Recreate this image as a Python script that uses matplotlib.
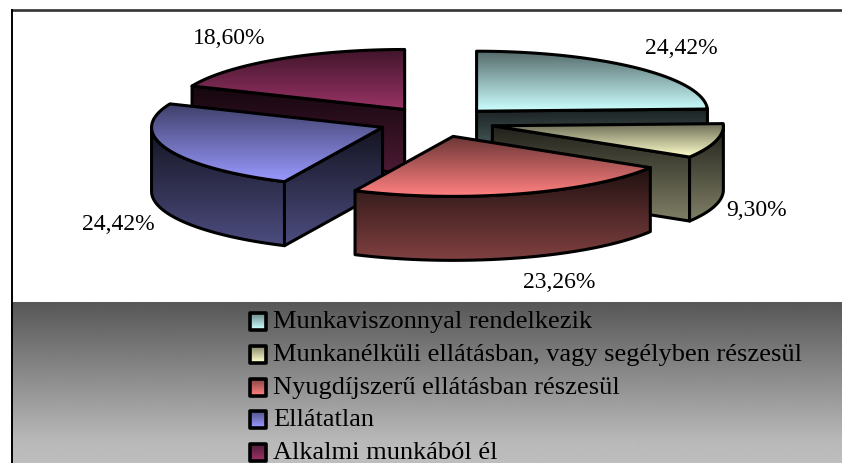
import numpy as np
import matplotlib
matplotlib.use('Agg')
import matplotlib.pyplot as plt
from matplotlib.patches import Polygon

categories = ['Munkaviszonnyal rendelkezik',
              'Munkanélküli ellátásban, vagy segélyben részesül',
              'Nyugdíjszerű ellátásban részesül',
              'Ellátatlan',
              'Alkalmi munkából él']
values = [24.42, 9.30, 23.26, 24.42, 18.60]
colors = ['#CCFFFF', '#FFFFCC', '#FF8080', '#9999FF', '#993366']

# pixel layout of the fake 3D pie
cx, cy = 436.5, 122
rx, ry = 231, 60
depth = 64
explode = 0.25
label_xy = [(681, 48), (757, 211), (559, 283), (118, 224), (229, 39)]
legend_rows = [321, 354, 387, 419, 452]
draw_order = [4, 0, 1, 3, 2]

plt.rcParams['font.family'] = ['Liberation Serif', 'DejaVu Serif']

fig = plt.figure(figsize=(8.42, 4.63), dpi=100)
ax = fig.add_axes([0, 0, 1, 1])
ax.set_xlim(0, 842)
ax.set_ylim(463, 0)
ax.axis('off')


def rgb(c):
    return np.array(matplotlib.colors.to_rgb(c))


def grad_fill(pts, c, t0, t1, z, lw=2.2):
    '''polygon filled with a vertical gradient, black outline on top'''
    pts = np.array(pts)
    x0, y0 = pts.min(axis=0)
    x1, y1 = pts.max(axis=0)
    t = np.linspace(t0, t1, 64).reshape(-1, 1, 1)
    im = ax.imshow(t * rgb(c).reshape(1, 1, 3), extent=(x0, x1, y1, y0), aspect='auto',
                   interpolation='bilinear', zorder=z)
    poly = Polygon(pts, closed=True, fc='none', ec='black', lw=lw, joinstyle='round', zorder=z + 0.1)
    ax.add_patch(poly)
    im.set_clip_path(poly)


# background
ax.plot([11.5, 842], [10, 10], color='#333333', lw=1.9, zorder=1)
shade = np.interp(np.arange(302, 463), [302, 403, 440, 463], [87, 158, 184, 190]) / 255
ax.imshow(shade.reshape(-1, 1), extent=(11, 842, 463, 302), aspect='auto', cmap='gray', vmin=0, vmax=1,
          interpolation='bilinear', zorder=1)
ax.plot([11.5, 11.5], [10, 463], color='black', lw=1.4, zorder=2)

# slices, angles clockwise from 12 o'clock
edges = np.cumsum([0] + values) / sum(values) * 360


def rim_point(a, ox, oy):
    r = np.radians(a)
    return ox + rx * np.sin(r), oy - ry * np.cos(r)


for z, i in enumerate(draw_order):
    a0, a1 = edges[i], edges[i + 1]
    mid = np.radians((a0 + a1) / 2)
    ox = cx + explode * rx * np.sin(mid)
    oy = cy - explode * ry * np.cos(mid)
    arc = [rim_point(a, ox, oy) for a in np.linspace(a0, a1, 60)]
    zz = 5 + z

    # flat cut faces which look towards the viewer
    inner = rim_point((a0 + a1) / 2, ox, oy)
    for a in (a0, a1):
        ex, ey = rim_point(a, ox, oy)
        if abs(ex - ox) < 1:
            continue
        line_y = oy + (ey - oy) * (inner[0] - ox) / (ex - ox)
        if inner[1] < line_y:
            quad = [(ox, oy), (ex, ey), (ex, ey + depth), (ox, oy + depth)]
            grad_fill(quad, colors[i], 0.13, 0.5, zz)

    # outer rim, only the front half can be seen
    lo, hi = max(a0, 90), min(a1, 270)
    if hi > lo:
        front = [rim_point(a, ox, oy) for a in np.linspace(lo, hi, 60)]
        rim = front + [(x, y + depth) for x, y in reversed(front)]
        grad_fill(rim, colors[i], 0.13, 0.5, zz + 0.2)

    grad_fill([(ox, oy)] + arc, colors[i], 0.42, 1.0, zz + 0.4)

# value labels
for v, (lx, ly) in zip(values, label_xy):
    ax.text(lx, ly, f'{v:.2f}%'.replace('.', ','), fontsize=17, ha='center', va='center', color='black', zorder=30)

# legend
for name, c, ly in zip(categories, colors, legend_rows):
    box = [(250, ly - 8.5), (266, ly - 8.5), (266, ly + 8.5), (250, ly + 8.5)]
    grad_fill(box, c, 0.5, 1.0, 30, lw=2.6)
    ax.text(273, ly + 1, name, fontsize=19, ha='left', va='center', color='black', zorder=31)

ax.set_xlim(0, 842)
ax.set_ylim(463, 0)
fig.savefig('out.png', dpi=100)
